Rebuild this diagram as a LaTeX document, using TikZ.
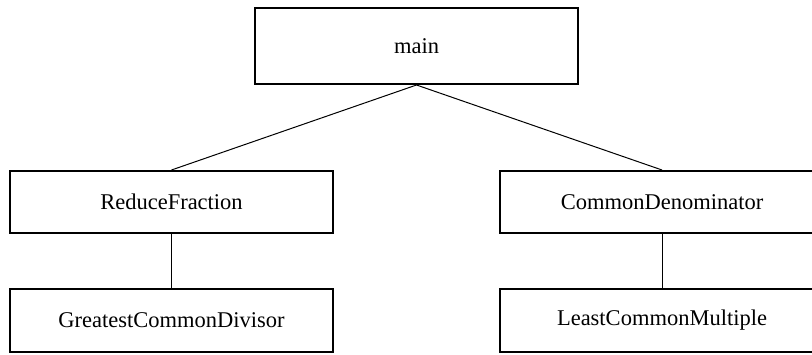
\documentclass[tikz,border=0pt]{standalone}
\usepackage{fontspec}
\setmainfont{Liberation Serif}
\begin{document}
\begin{tikzpicture}[x=1pt,y=1pt,
  fbox/.style={draw, line width=2pt, rectangle, inner sep=0pt, font=\fontsize{22.5}{26}\selectfont},
  conn/.style={line width=1pt}]
\clip (0,0) rectangle (812,354);
\node[fbox, minimum width=323pt, minimum height=76pt] (main) at (416.5,308) {main};
\node[fbox, minimum width=323pt, minimum height=62pt] (rf) at (171.5,152) {ReduceFraction};
\node[fbox, minimum width=324pt, minimum height=62pt] (cd) at (662,152) {CommonDenominator};
\node[fbox, minimum width=323pt, minimum height=63pt] (gcd) at (171.5,33.5) {GreatestCommonDivisor};
\node[fbox, minimum width=324pt, minimum height=63pt] (lcm) at (662,33.5) {LeastCommonMultiple};
\draw[conn] (main.south) -- (rf.north);
\draw[conn] (main.south) -- (cd.north);
\draw[conn] (rf.south) -- (gcd.north);
\draw[conn] (cd.south) -- (lcm.north);
\end{tikzpicture}
\end{document}
